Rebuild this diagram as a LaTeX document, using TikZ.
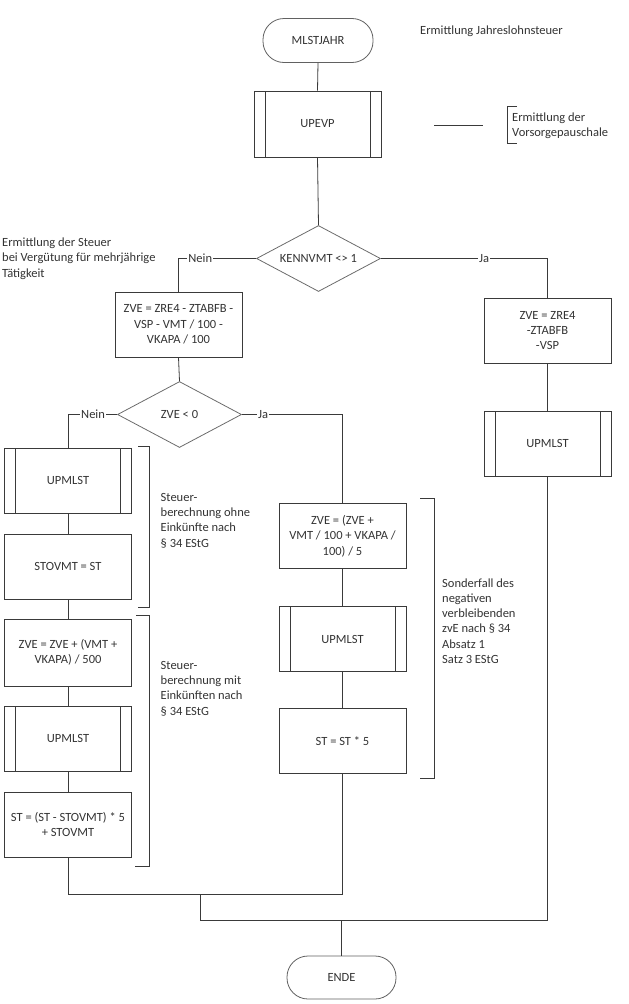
\documentclass[tikz,border=0pt]{standalone}
\usepackage{fontspec}
\setmainfont{Carlito}
\usetikzlibrary{shapes.geometric}
\definecolor{txt}{HTML}{333333}
\definecolor{ln}{HTML}{3A3A3A}
\begin{document}
\begin{tikzpicture}[x=1pt,y=-1pt,
  every node/.style={font=\fontsize{12.5}{15.3}\selectfont, text=txt},
  line/.style={draw=ln, line width=0.8pt},
  proc/.style={draw=ln, line width=0.8pt, rectangle, minimum width=127pt, minimum height=65pt, inner sep=0pt, align=center},
  sub/.style={proc, path picture={
     \draw[ln, line width=0.8pt] ([xshift=11pt]path picture bounding box.north west) -- ([xshift=11pt]path picture bounding box.south west);
     \draw[ln, line width=0.8pt] ([xshift=-11pt]path picture bounding box.north east) -- ([xshift=-11pt]path picture bounding box.south east);}},
  term/.style={draw=ln!80, line width=0.8pt, rectangle, rounded corners=21pt, minimum width=110pt, minimum height=44pt, inner sep=0pt},
  dec/.style={draw=ln!75, line width=0.8pt, diamond, aspect=1.88, minimum width=124pt, minimum height=66pt, inner sep=0pt},
  lbl/.style={fill=white, inner sep=1pt},
  note/.style={anchor=west, align=left, inner sep=0pt}
]
\useasboundingbox (0,0) rectangle (629,1004);

% nodes
\node[term] (start) at (318,40.5) {MLSTJAHR};
\node[sub, minimum width=127pt, minimum height=66pt] (upevp) at (317.5,124) {UPEVP};
\node[dec] (d1) at (318.5,258.5) {KENNVMT <> 1};
\node[proc] (b1) at (178.5,324.5) {ZVE = ZRE4 - ZTABFB -\\VSP - VMT / 100 -\\VKAPA / 100};
\node[proc] (r1) at (547.5,330.5) {ZVE = ZRE4\\-ZTABFB\\-VSP};
\node[sub] (r2) at (547.5,443.5) {UPMLST};
\node[dec] (d2) at (179.5,414.5) {ZVE < 0};
\node[sub] (u1) at (68,480.5) {UPMLST};
\node[proc] (s1) at (68,566.5) {STOVMT = ST};
\node[proc, minimum height=67pt] (z1) at (68,652.5) {ZVE = ZVE + (VMT +\\VKAPA) / 500};
\node[sub] (u2) at (68,738.5) {UPMLST};
\node[proc] (st1) at (68,824.5) {ST = (ST - STOVMT) * 5\\+ STOVMT};
\node[proc] (m1) at (342.5,536) {ZVE = (ZVE +\\VMT / 100 + VKAPA /\\100) / 5};
\node[sub] (m2) at (342.5,639) {UPMLST};
\node[proc] (m3) at (342.5,741) {ST = ST * 5};
\node[term, minimum width=109pt, minimum height=43pt] (ende) at (341.5,977.5) {ENDE};

% notes
\node[note] (n0) at (420,31) {Ermittlung Jahreslohnsteuer};
\node[note] (n1) at (512,125.5) {Ermittlung der\\Vorsorgepauschale};
\node[note] (n2) at (2,258.5) {Ermittlung der Steuer\\bei Vergütung für mehrjährige\\Tätigkeit};
\node[note] (n3) at (160.5,520.5) {Steuer-\\berechnung ohne\\Einkünfte nach\\§ 34 EStG};
\node[note] (n4) at (160.5,688.5) {Steuer-\\berechnung mit\\Einkünften nach\\§ 34 EStG};
\node[note] (n5) at (442,621) {Sonderfall des\\negativen\\verbleibenden\\zvE nach § 34\\Absatz 1\\Satz 3 EStG};

% annotation marks
\draw[line] (434,125) -- (483,125);
\draw[line] (517,106) -- (507,106) -- (507,143) -- (517,143);
\draw[line] (138,446) -- (149,446) -- (149,607) -- (138,607);
\draw[line] (136,615) -- (149,615) -- (149,866) -- (135,866);
\draw[line] (420,498) -- (434,498) -- (434,778) -- (420,778);

% coordinates
\coordinate (jA) at (200,894);
\coordinate (jB) at (200,920);
\coordinate (jC) at (341.5,920);

% connectors
\draw[line] (start.south) -- (upevp.north);
\draw[line] (upevp.south) -- (d1.north);
\draw[line] (d1.west) -| node[lbl,pos=0.36]{Nein} (b1.north);
\draw[line] (d1.east) -| node[lbl,pos=0.31]{Ja} (r1.north);
\draw[line] (b1.south) -- (d2.north);
\draw[line] (r1.south) -- (r2.north);
\draw[line] (d2.west) -| node[lbl,pos=0.245]{Nein} (u1.north);
\draw[line] (d2.east) -| node[lbl,pos=0.105]{Ja} (m1.north);
\draw[line] (u1.south) -- (s1.north);
\draw[line] (s1.south) -- (z1.north);
\draw[line] (z1.south) -- (u2.north);
\draw[line] (u2.south) -- (st1.north);
\draw[line] (m1.south) -- (m2.north);
\draw[line] (m2.south) -- (m3.north);
\draw[line] (st1.south) |- (jA) -| (m3.south);
\draw[line] (jA) -- (jB) -| (r2.south);
\draw[line] (jC) -- (ende.north);
\end{tikzpicture}
\end{document}
